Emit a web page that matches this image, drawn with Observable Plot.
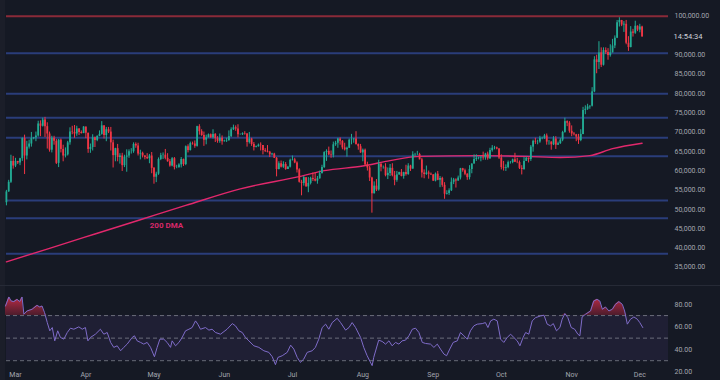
<!DOCTYPE html>
<html><head><meta charset="utf-8">
<script src="https://cdn.jsdelivr.net/npm/d3@7"></script>
<script src="https://cdn.jsdelivr.net/npm/@observablehq/plot@0.6"></script>
<style>
html,body{margin:0;padding:0;background:#151924;}
#chart{position:relative;width:720px;height:380px;overflow:hidden;background:#151924;font-family:Roboto,"Liberation Sans",sans-serif;}
#chart svg{position:absolute;left:0;}
.strip{position:absolute;}
</style></head><body><div id="chart"></div>
<script>
// ---- DATA (prices in thousands USD) ----
const startDate = "2024-02-26";
const firstOpen = 51.7;
const closes = [
 54.5,57.0,62.4,61.2,
 62.4,62.0,63.1,68.3,63.8,66.1,66.9,68.3,68.5,69.0,72.1,71.5,73.1,71.4,69.5,65.3,68.4,67.6,61.9,67.9,65.5,63.8,64.1,67.2,70.0,69.9,69.5,70.8,69.9,69.6,71.3,
 69.7,65.5,66.0,68.5,67.8,68.9,69.4,71.6,69.1,70.6,70.0,67.2,63.9,65.7,63.4,63.8,61.3,63.5,63.8,64.9,64.9,66.8,66.4,64.3,64.5,63.8,63.4,63.1,63.8,60.6,
 58.3,59.1,62.9,63.9,64.0,63.2,62.3,61.2,63.1,60.8,60.8,61.5,62.9,61.6,66.2,65.2,67.0,66.9,66.3,71.4,70.1,69.1,67.9,68.5,69.3,68.5,69.4,68.3,67.6,68.4,67.5,
 67.7,67.8,68.8,70.6,71.1,70.8,69.3,69.3,69.6,69.5,67.3,68.2,66.8,66.0,66.2,66.6,66.5,65.2,65.0,64.8,64.1,64.3,63.2,60.3,61.8,60.9,61.6,60.3,60.9,62.7,
 62.8,62.0,60.2,57.0,56.7,58.2,55.8,56.7,58.0,57.7,57.3,57.9,59.2,60.8,64.7,65.0,64.1,64.0,66.7,67.1,68.2,67.6,65.9,65.4,65.8,67.9,68.0,68.2,66.8,66.2,64.6,
 65.3,61.5,60.7,58.1,54.0,56.0,55.0,61.7,60.9,60.9,58.7,59.3,60.6,58.7,57.5,58.9,59.5,58.5,59.5,59.0,61.2,60.4,64.1,64.2,64.2,62.8,59.4,59.0,59.4,59.1,58.9,
 57.3,59.1,57.5,58.0,56.2,53.9,54.1,54.8,57.0,57.6,57.3,58.1,60.5,60.0,59.1,58.2,60.3,61.7,62.9,63.2,63.3,63.5,63.3,64.3,63.1,65.2,65.8,65.9,65.6,63.3,
 60.8,60.6,60.8,62.1,62.1,62.8,62.2,62.1,60.6,60.3,62.4,63.2,62.9,66.1,67.6,67.4,67.4,68.4,68.4,69.0,67.4,67.4,66.7,68.2,66.6,67.0,67.9,69.9,72.7,72.3,70.2,
 69.5,69.3,68.7,67.8,69.4,75.6,75.9,76.5,76.7,80.4,88.7,88.0,90.5,87.3,91.1,90.6,89.8,90.5,92.3,94.3,98.3,98.9,97.7,97.9,93.0,91.9,95.9,95.6,97.4,96.4,
 97.2,94.7
];
const highs = [
 54.9,57.5,64.0,63.7,
 63.2,62.4,63.2,68.5,69.2,67.6,67.9,69.9,68.6,70.0,72.8,72.9,73.6,73.8,72.4,70.0,68.9,68.9,68.1,68.1,68.2,66.6,65.9,67.6,71.1,71.5,71.7,71.5,70.9,70.3,71.4,
 71.3,69.7,66.9,69.3,68.7,69.0,70.3,72.7,71.7,71.2,71.2,71.2,67.9,65.8,66.8,64.4,64.5,64.0,65.4,65.4,65.7,67.2,67.2,67.1,65.3,64.8,63.9,64.4,64.2,64.7,
 60.8,59.6,63.3,64.5,64.6,65.5,64.4,62.9,63.4,63.4,61.4,61.8,63.4,63.0,66.4,66.7,67.4,67.4,67.7,71.5,71.9,70.6,70.0,69.2,69.5,69.5,70.6,69.6,68.8,69.5,69.0,
 67.9,68.4,70.3,71.1,71.8,71.6,71.9,69.5,69.8,70.1,69.6,69.9,68.4,67.3,66.4,66.9,67.2,66.5,65.7,66.5,65.0,64.5,64.5,63.4,62.3,62.5,62.3,62.1,61.1,63.0,
 63.8,63.2,62.3,60.5,57.5,58.5,58.2,58.2,58.3,59.4,59.5,58.5,59.9,61.4,64.9,65.4,66.1,65.1,67.4,67.6,68.4,68.5,67.8,67.1,66.1,68.2,69.4,68.3,70.1,66.9,66.8,
 65.6,65.6,62.2,61.1,58.3,57.1,57.7,62.7,61.7,61.2,61.8,60.7,61.6,61.8,59.8,59.8,59.6,60.3,59.6,61.4,61.8,61.4,64.9,64.5,65.0,64.5,63.2,60.2,61.2,59.9,59.4,
 59.0,59.4,59.8,58.5,58.3,56.9,54.8,55.3,58.1,58.0,57.9,58.6,60.6,60.6,60.4,59.2,61.3,61.8,64.1,64.1,63.5,63.6,64.8,64.5,64.8,65.8,66.5,66.3,66.1,65.7,
 64.1,62.4,61.5,62.5,62.4,63.0,64.5,63.2,62.5,61.3,63.4,63.5,63.3,66.5,67.9,68.4,67.9,68.9,68.7,69.4,69.5,67.8,67.5,68.8,68.8,67.4,68.3,70.2,73.6,72.9,72.7,
 71.6,69.9,69.4,69.4,70.6,76.4,76.8,77.2,76.8,81.5,89.5,89.9,93.4,91.8,91.8,91.8,91.6,92.6,94.0,94.9,98.9,99.6,98.9,98.6,98.9,94.7,97.3,96.6,98.7,97.5,
 97.9,97.4
];
const lows = [
 50.9,54.4,56.7,60.4,
 60.8,61.6,61.3,62.4,59.0,62.8,65.6,66.1,68.0,67.5,68.7,68.8,71.3,68.6,65.6,64.8,64.6,66.6,61.6,60.8,64.6,62.3,63.3,63.8,66.6,69.3,68.4,68.9,69.1,69.5,69.6,
 68.3,64.5,64.5,65.1,66.0,67.5,68.8,69.2,68.2,67.5,69.6,65.1,60.7,62.3,62.3,61.7,59.8,60.8,59.6,63.2,64.3,64.5,65.8,63.8,62.8,63.3,62.8,62.9,61.8,59.2,
 56.5,56.9,58.8,62.6,62.9,62.8,62.2,60.9,61.0,60.2,60.5,60.6,60.7,61.1,61.3,64.6,65.1,66.6,65.8,66.1,69.2,68.9,66.3,66.7,68.5,68.4,68.2,67.3,67.1,67.1,66.6,
 67.4,67.3,67.6,68.6,70.4,70.2,68.5,69.2,69.1,69.2,66.1,66.9,66.3,65.1,65.9,66.1,65.1,64.1,64.7,64.6,63.4,63.9,63.2,58.4,60.2,60.7,60.6,60.1,60.3,60.7,
 62.5,61.8,59.4,56.8,53.5,56.0,55.8,54.3,56.3,57.2,57.1,56.5,57.8,59.2,60.6,62.4,63.9,63.2,63.3,66.3,65.8,66.6,65.4,65.1,63.5,65.8,66.7,67.1,66.6,65.3,64.5,
 62.3,61.2,59.9,57.2,49.0,54.0,54.6,54.7,59.7,60.4,58.4,57.7,58.5,58.4,56.1,57.0,58.8,58.4,57.8,58.6,58.8,59.8,60.4,63.6,63.9,62.8,58.1,57.9,58.8,57.8,58.8,
 57.2,57.1,57.4,55.6,55.7,52.6,53.7,53.6,54.6,56.4,55.5,57.3,57.6,59.6,58.7,57.5,57.6,59.2,61.7,62.4,62.8,62.3,62.7,62.7,62.7,62.9,64.8,65.4,65.4,62.9,
 60.2,59.9,59.8,60.5,61.7,61.8,62.1,61.8,60.3,58.9,60.1,62.4,62.0,62.4,64.8,66.8,66.7,67.1,68.0,68.1,66.6,66.6,65.3,66.5,65.5,66.6,66.8,67.5,69.7,71.4,69.7,
 68.8,69.0,67.5,66.8,67.5,69.3,74.5,75.6,75.9,76.5,80.2,85.1,86.2,86.7,87.1,90.1,88.6,89.4,90.5,91.6,94.2,97.2,97.3,95.8,92.6,90.9,91.8,94.6,95.3,96.0,
 95.7,94.5
];
// 200-day moving average (day offset from 2024-03-01, value in thousands)
const dmaDays = [-4, 15, 35, 55, 75, 99, 126, 136, 153, 165, 178, 205, 225, 240, 253, 263, 276];
const dmaVals = [36.4, 39.9, 43.6, 47.3, 51.0, 55.3, 58.6, 60.0, 61.2, 62.6, 63.7, 63.9, 63.7, 63.4, 63.9, 65.7, 67.1];
// horizontal support/resistance levels
const blueLevels = [90.42, 79.9, 73.69, 68.51, 52.28, 47.7, 38.48];
const partialLevels = [63.75];
const partialFromDay = [75.8];
const redLevels = [100];
const priceTicks = [35,40,45,50,55,60,65,70,75,80,85,90,100];
// RSI (day offset from 2024-03-01, value)
const rsiDays = [-4.4,-2.9,-1.9,-0.7,0.7,1.9,2.9,3.7,5.1,7.3,9.5,10.7,11.7,12.8,14.0,15.1,16.2,17.3,18.6,19.8,21.3,22.8,24.2,25.7,27.9,29.4,30.8,31.9,33.0,35.2,37.4,38.9,40.4,41.9,43.3,44.8,46.3,47.7,49.2,51.4,52.4,53.6,55.1,56.5,58.0,59.5,61.2,62.4,63.6,65.3,66.8,68.3,69.0,70.5,72.0,73.4,74.9,76.4,77.8,79.3,80.3,81.5,83.7,85.2,86.6,88.1,90.3,93.2,95.5,96.9,98.4,99.9,101.3,102.8,105.0,107.2,109.4,111.6,113.1,114.5,115.6,117.5,119.7,121.2,122.6,124.1,125.5,127.0,128.5,130.7,132.1,133.6,135.1,136.6,138.0,139.5,141.7,143.2,145.4,146.9,148.3,149.8,152.0,153.4,154.9,157.1,157.8,160.0,161.5,163.0,164.5,165.9,167.4,168.9,170.3,171.8,173.3,174.8,176.2,177.7,179.2,180.6,182.8,184.3,185.8,187.2,188.7,189.9,191.3,192.8,194.6,196.0,197.5,199.0,200.4,201.9,203.4,205.6,207.0,208.1,209.3,210.7,212.2,213.7,215.1,216.6,218.1,219.5,221.0,222.2,223.6,224.7,226.1,227.6,229.1,231.3,232.8,234.2,235.7,236.9,238.3,239.8,240.8,242.0,243.3,244.8,246.3,247.7,248.6,249.6,251.1,253.3,254.7,256.2,257.4,258.5,259.9,261.4,262.9,264.3,265.8,267.3,268.3,269.5,270.9,272.4,273.9,275.0,276.3];
const rsiVals = [78.5,86.5,82.9,82.4,84.4,82.4,86.5,71.2,74.1,75.6,79.1,77.6,78.5,72.6,63.8,56.5,59.4,47.6,56.5,50.6,49.1,55.0,58.8,57.9,60.0,57.9,59.4,47.6,50.6,53.5,57.9,53.5,55.0,46.2,41.8,43.2,38.8,41.8,44.7,50.6,52.1,47.6,46.2,44.7,46.2,41.8,33.5,41.8,49.1,49.1,46.2,41.8,47.6,43.2,46.2,50.6,56.5,57.9,59.4,65.3,62.4,57.9,59.4,57.1,57.9,55.0,53.5,57.9,62.9,60.9,56.5,55.0,50.6,47.6,43.2,41.8,38.8,37.4,33.5,26.5,32.9,34.4,37.4,43.8,40.3,32.9,28.5,31.5,37.4,38.8,41.8,49.1,59.4,62.4,57.9,63.8,67.6,63.8,57.1,59.4,63.8,59.4,50.6,41.8,34.4,25.6,32.9,48.2,47.1,44.7,47.6,43.2,46.2,44.7,47.6,48.2,52.1,57.9,58.8,55.0,46.2,45.3,44.7,41.8,44.7,40.3,35.9,34.4,40.3,46.2,47.6,55.0,52.1,49.1,56.5,60.9,62.4,62.9,63.8,59.4,65.3,66.8,65.3,49.1,46.2,50.6,53.5,50.6,47.6,43.2,50.6,55.0,53.5,65.3,68.2,69.7,70.3,62.4,60.9,62.9,56.5,59.4,66.8,71.8,68.2,59.4,57.9,53.5,52.1,68.8,71.2,74.1,82.9,84.4,82.9,75.6,77.6,74.1,75.6,80.0,82.4,80.0,74.1,62.4,66.8,68.8,66.8,63.8,59.4];
const rsiLevels = [70, 50, 30];
const rsiTicks = [20, 40, 60, 80];
const monthTicks = ["2024-03-01","2024-04-01","2024-05-01","2024-06-01","2024-07-01","2024-08-01","2024-09-01","2024-10-01","2024-11-01","2024-12-01"];
const countdownText = "14:54:34";
const dmaLabel = {text: "200 DMA", day: 66.5, value: 45.9};

// ---- BUILD ----
const DAY = 864e5;
const t0 = Date.parse(startDate);
const mar1 = Date.UTC(2024, 2, 1);
const xStart = new Date(mar1 - 3.96 * DAY);
const xEnd = new Date(xStart.getTime() + 291.6 * DAY);
const dayToDate = d => new Date(mar1 + d * DAY);

const candles = closes.map((c, i) => ({
  date: new Date(t0 + i * DAY), o: i ? closes[i - 1] : firstOpen, h: highs[i], l: lows[i], c
}));
const up = "#22ab94", down = "#f23645";
const col = d => d.c >= d.o ? up : down;
const dma = dmaDays.map((d, i) => ({date: dayToDate(d), v: dmaVals[i]}));
const rsi = rsiDays.map((d, i) => ({date: dayToDate(d), v: rsiVals[i]}));
const partial = partialLevels.map((p, i) => ({p, from: dayToDate(partialFromDay[i]), to: xEnd}));
const last = candles[candles.length - 1];
const font = "Roboto, 'Liberation Sans', sans-serif";
const axisColor = "#a3a6af";

const price = Plot.plot({
  width: 720, height: 286, marginTop: 0, marginBottom: 0, marginLeft: 6, marginRight: 52,
  style: {background: "transparent", color: axisColor, fontFamily: font, fontSize: "7px", overflow: "visible"},
  x: {type: "utc", domain: [xStart, xEnd], axis: null, label: null},
  y: {domain: [30.01, 104.065], axis: null, label: null},
  marks: [
    Plot.ruleY(blueLevels, {y: d => d, stroke: "#2a3d7a", strokeWidth: 2}),
    Plot.ruleY(partial, {y: "p", x1: "from", x2: "to", stroke: "#2a3d7a", strokeWidth: 2}),
    Plot.ruleY(redLevels, {y: d => d, stroke: "#8a2a38", strokeWidth: 2}),
    Plot.line(dma, {x: "date", y: "v", stroke: "#e2286c", strokeWidth: 1.4, curve: "monotone-x"}),
    Plot.text([dmaLabel], {x: d => dayToDate(d.day), y: "value", text: "text", fill: "#d8286a", fontWeight: "bold", fontSize: 8}),
    Plot.ruleX(candles, {x: "date", y1: "l", y2: "h", stroke: col, strokeWidth: 1}),
    Plot.ruleX(candles, {x: "date", y1: "o", y2: "c", stroke: col, strokeWidth: 1.8}),
    Plot.axisY(priceTicks, {anchor: "right", tickSize: 0, tickPadding: 6, fill: axisColor, label: null,
      tickFormat: v => d3.format(",.2f")(v * 1000)}),
    Plot.text([last], {x: () => xEnd, y: "c", text: () => countdownText, dx: 5, textAnchor: "start",
      fill: "#d1d4dc", fontSize: 7.5, ariaLabel: "countdown"})
  ]
});

const rsiPlot = Plot.plot({
  width: 720, height: 94, marginTop: 0, marginBottom: 10, marginLeft: 6, marginRight: 52,
  style: {background: "transparent", color: axisColor, fontFamily: font, fontSize: "7px", overflow: "visible"},
  x: {type: "utc", domain: [xStart, xEnd], axis: null, label: null},
  y: {domain: [21.3, 95.8], axis: null, label: null},
  marks: [
    () => {
      const defs = d3.create("svg:defs");
      const g = defs.append("linearGradient").attr("id", "ob").attr("x1", 0).attr("y1", 0).attr("x2", 0).attr("y2", 1);
      g.append("stop").attr("offset", "0%").attr("stop-color", "#c92d4a").attr("stop-opacity", 0.95);
      g.append("stop").attr("offset", "100%").attr("stop-color", "#5c1d2e").attr("stop-opacity", 0.8);
      return defs.node();
    },
    Plot.areaY([{d: xStart}, {d: xEnd}], {x: "d", y1: rsiLevels[2], y2: rsiLevels[0], fill: "#7e57c2", fillOpacity: 0.1}),
    Plot.ruleY(rsiLevels, {y: d => d, stroke: "#8a8d98", strokeOpacity: 0.7, strokeDasharray: "4,3", strokeWidth: 1}),
    Plot.areaY(rsi, {x: "date", y1: rsiLevels[0], y2: d => Math.max(d.v, rsiLevels[0]), fill: "url(#ob)"}),
    Plot.line(rsi, {x: "date", y: "v", stroke: "#7f6cc9", strokeWidth: 1}),
    Plot.axisY(rsiTicks, {anchor: "right", tickSize: 0, tickPadding: 6, fill: axisColor, label: null, tickFormat: d3.format(".2f")}),
    Plot.axisX(monthTicks.map(s => new Date(s)), {anchor: "bottom", tickSize: 0, tickPadding: 1.5, fill: axisColor, label: null,
      tickFormat: d3.utcFormat("%b")})
  ]
});

const chart = document.getElementById("chart");
const strip = (css) => { const d = document.createElement("div"); d.className = "strip"; d.style.cssText = css; chart.appendChild(d); };
strip("left:0;top:0;width:5px;height:380px;background:#1b1e29;");
price.style.top = "0px";
rsiPlot.style.top = "286px";
chart.appendChild(price);
chart.appendChild(rsiPlot);
strip("left:0;top:285px;width:720px;height:1px;background:#262a36;");

// background box behind the countdown label
const cd = d3.select(price).select('g[aria-label="countdown"] text');
if (!cd.empty()) {
  const b = cd.node().getBBox();
  d3.select(cd.node().parentNode).insert("rect", "text")
    .attr("x", b.x - 3).attr("y", b.y - 0.5).attr("width", b.width + 6).attr("height", b.height + 1)
    .attr("rx", 2).attr("fill", "#3a3e4a");
}
</script></body></html>
